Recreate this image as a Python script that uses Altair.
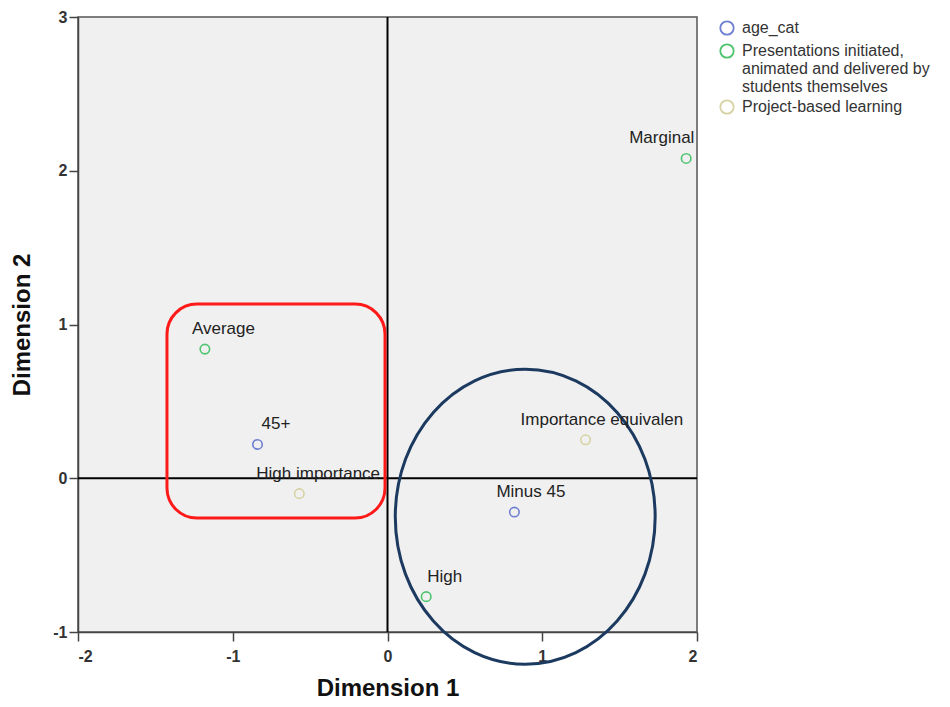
import altair as alt
import pandas as pd

# ---- data ----
labels = ["Average", "45+", "High importance", "Marginal",
          "Importance equivalen", "Minus 45", "High"]
groups = ["Presentations", "age_cat", "Project", "Presentations",
          "Project", "age_cat", "Presentations"]
dim1 = [-1.18, -0.84, -0.57, 1.93, 1.28, 0.82, 0.25]
dim2 = [0.84, 0.22, -0.10, 2.08, 0.25, -0.22, -0.77]

group_keys = ["age_cat", "Presentations", "Project"]
group_names = ["age_cat",
               "Presentations initiated,|animated and delivered by|students themselves",
               "Project-based learning"]
group_colors = ["#6f80d2", "#4fc46e", "#d6d2a4"]

x_ticks = [-2, -1, 0, 1, 2]
y_ticks = [-1, 0, 1, 2, 3]

# annotation shapes (data units)
box_x = [-1.425, -0.016]
box_y = [1.133, -0.259]
ellipse_center = [0.89, -0.25]
ref_lines = [0]

# label pixel offsets (style)
label_dx = [-13, 4, -43, -57, -65, -18, 1]

name_map = dict(zip(group_keys, group_names))
df = pd.DataFrame({"label": labels, "x": dim1, "y": dim2,
                   "group": [name_map[g] for g in groups]})

xs = alt.Scale(domain=[-2, 2], nice=False, zero=False)
ys = alt.Scale(domain=[-1, 3], nice=False, zero=False)

axis_common = dict(labelExpr="'' + datum.value", labelFontSize=16,
                   labelFontWeight="bold", labelColor="#333",
                   labelFont="Liberation Sans", tickSize=9,
                   titleFont="Liberation Sans", titleFontSize=24,
                   titleFontWeight="bold", titleColor="#111",
                   titleBaseline="middle")

x_axis = alt.Axis(values=x_ticks, labelPadding=7, titleY=56, **axis_common)
y_axis = alt.Axis(values=y_ticks, labelPadding=2, titleX=-56, **axis_common)


def X(field="x"):
    return alt.X(f"{field}:Q", scale=xs, title="Dimension 1", axis=x_axis)


def Y(field="y"):
    return alt.Y(f"{field}:Q", scale=ys, title="Dimension 2", axis=y_axis)


refs = pd.DataFrame({"x": ref_lines, "y": ref_lines})
vline = alt.Chart(refs).mark_rule(color="#000", strokeWidth=2).encode(x=X())
hline = alt.Chart(refs).mark_rule(color="#000", strokeWidth=2).encode(y=Y())

box_df = pd.DataFrame({"x": [box_x[0]], "x2": [box_x[1]],
                       "y": [box_y[0]], "y2": [box_y[1]]})
box = alt.Chart(box_df).mark_rect(filled=False, stroke="#ff1a1a",
                                  strokeWidth=3, cornerRadius=30).encode(
    x=X(), x2="x2:Q", y=Y(), y2="y2:Q")

a, k = 0.881, 0.5523
ka = round(k * a, 4)
ell_path = (f"M {-a} 0 C {-a} {-k} {-ka} -1 0 -1 "
            f"C {ka} -1 {a} {-k} {a} 0 "
            f"C {a} {k} {ka} 1 0 1 "
            f"C {-ka} 1 {-a} {k} {-a} 0 Z")
ell_df = pd.DataFrame({"x": [ellipse_center[0]], "y": [ellipse_center[1]]})
ellipse = alt.Chart(ell_df).mark_point(shape=ell_path, size=87025, filled=False,
                                       stroke="#1c3a60", strokeWidth=3,
                                       opacity=1, clip=False).encode(
    x=X(), y=Y())

points = alt.Chart(df).mark_point(shape="circle", filled=False, size=90,
                                  strokeWidth=1.6, opacity=1).encode(
    x=X(), y=Y(),
    color=alt.Color("group:N",
                    scale=alt.Scale(domain=group_names, range=group_colors),
                    sort=group_names,
                    legend=alt.Legend(title=None, orient="none",
                                      legendX=641, legendY=3,
                                      labelExpr="split(datum.label, '|')",
                                      symbolType="circle",
                                      symbolSize=180, symbolStrokeWidth=1.8,
                                      symbolFillColor="transparent",
                                      labelFontSize=16, labelColor="#333",
                                      labelFont="Liberation Sans",
                                      labelLimit=0, rowPadding=1,
                                      labelOffset=7)))

text_layers = []
for i, lab in enumerate(labels):
    sub = df.iloc[[i]]
    text_layers.append(
        alt.Chart(sub).mark_text(align="left", baseline="middle", dx=label_dx[i],
                                 dy=-20, fontSize=17, font="Liberation Sans",
                                 color="#222", clip=False).encode(
            x=X(), y=Y(), text="label:N"))

chart = alt.layer(vline, hline, box, ellipse, points, *text_layers).properties(
    width=619, height=615,
    autosize=alt.AutoSizeParams(type="none"),
    padding={"left": 70, "top": 9, "right": 240, "bottom": 67},
    background="white",
).configure_view(
    fill="#f0f0f0", stroke="#555", strokeWidth=1.5
).configure_axis(
    grid=False, domainColor="#444", domainWidth=1.5, tickColor="#444",
    tickWidth=1.5
)

chart.save("out.html", embed_options={"renderer": "svg", "actions": False})
